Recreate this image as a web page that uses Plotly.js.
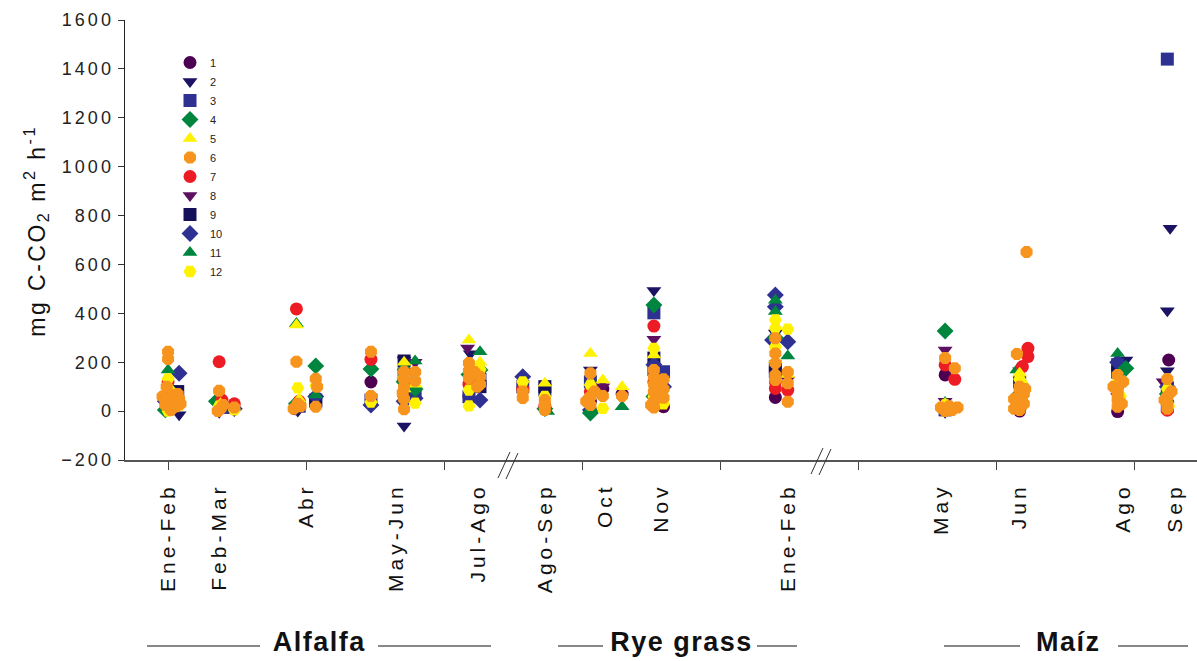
<!DOCTYPE html>
<html>
<head>
<meta charset="utf-8">
<script src="https://cdn.plot.ly/plotly-3.0.1.min.js"></script>
<style>
  html, body { margin: 0; padding: 0; background: #fff; }
  #chart { width: 1197px; height: 661px; }
  .ytick text { letter-spacing: 3px; }
  .x2tick text { letter-spacing: 4px; }
  .annotation[data-index="0"] text,
  .annotation[data-index="1"] text,
  .annotation[data-index="2"] text { letter-spacing: 1.5px; }
  .annotation[data-index="3"] text { letter-spacing: 2.5px; }
</style>
</head>
<body>
<div id="chart"></div>
<script>
// Soil respiration (mg C-CO2 m-2 h-1) per sampling, twelve plots.
// x = sampling position along the time axis (one unit per major tick).

const seriesNames = ['1','2','3','4','5','6','7','8','9','10','11','12'];

const s1x = [0.00,0.05, 0.37, 0.92, 1.47,1.71, 2.18, 3.06,3.15,3.29, 3.59, 4.40, 5.63, 6.17, 6.88, 7.25];
const s1y = [20,45, 10, 10, 119,60, 60, 40,90,70, 18, 56, 148, 0, -2, 209];

const s2x = [0.08,0.01, 0.37, 0.94, 1.71,1.71, 2.19, 2.57, 3.06, 3.52, 4.40, 5.63, 6.17, 6.94, 7.26,7.24,7.24];
const s2y = [-15,10, -5, 0, 209,-61, 235, 130, 168, 493, 320, -5, 10, 209, 748,411,165];

const s3x = [0.06,0.00, 0.40, 0.95,1.07, 1.47,1.71,1.79, 2.18,2.26, 2.57,2.73, 3.06, 3.52,3.59,3.52, 4.40, 5.63, 6.17, 6.88, 7.24,7.24];
const s3y = [60,30, 15, 20,40, 45,150,70, 59,130, 100,86, 120, 402,161,170, 160, 5, 30, 190, 1440,20];

const s4x = [0.03,-0.02, 0.35, 1.07,0.93, 1.47,1.71,1.79, 2.18,2.26, 2.73, 3.06, 3.52,3.52, 4.40, 5.63, 6.17, 6.94, 7.24];
const s4y = [75,5, 40, 185,30, 172,120,90, 150,168, 10, -8, 434,60, 300, 328, 70, 175, 70];

const s5x = [0.02,0.06, 0.38, 0.93,0.95, 1.71,1.71,1.79, 2.18,2.26, 2.73, 3.06,3.15,3.29, 3.52, 4.40,4.49, 5.63, 6.17, 6.88, 7.24];
const s5y = [90,15, 30, 352,50, 200,90,110, 291,200, 114, 236,127,100, 230, 210,150, 30, 155, 130, 40];

const s6x = [0.00,0.00,-0.01,0.04,0.00,0.06,0.02,0.08,-0.02,0.07,0.09,-0.04,
             0.37,0.38,0.40,0.48,0.36,
             0.93,0.91,0.94,0.96,1.07,1.07,1.08,
             1.47,1.47,1.71,1.71,1.71,1.70,1.71,1.71,1.79,1.79,
             2.18,2.18,2.18,2.26,2.26,2.22,2.24,
             2.57,2.57,2.73,2.73,2.73,
             3.06,3.06,3.06,3.15,3.29,3.03,3.09,
             3.52,3.52,3.52,3.52,3.52,3.52,3.59,3.59,3.59,3.56,3.55,3.50,
             4.40,4.40,4.40,4.40,4.40,4.49,4.49,4.49,
             5.70,5.63,5.63,5.63,5.66,5.60,5.68,5.72,
             6.15,6.22,6.17,6.17,6.17,6.17,6.17,6.17,6.13,6.20,6.13,6.20,6.21,
             6.88,6.88,6.88,6.88,6.88,6.91,6.85,6.92,
             7.24,7.24,7.24,7.24,7.22,7.27];
const s6y = [243,213,100,65,40,20,5,50,25,70,30,60,
             83,10,25,15,0,
             202,10,30,20,132,18,100,
             243,62,161,130,100,75,50,8,160,124,
             197,135,165,141,110,160,100,
             80,54,25,5,45,
             155,59,25,62,62,40,80,
             168,140,110,80,40,15,130,90,55,110,60,25,
             298,236,196,148,127,114,38,160,
             175,217,10,0,20,15,5,15,
             234,651,100,80,60,40,20,5,10,30,50,70,90,
             148,90,45,18,70,30,100,120,
             131,60,30,10,45,80];

const s7x = [0.00,0.05, 0.37,0.39,0.48, 0.93,0.95, 1.47, 2.18, 2.57,2.73, 3.06, 3.52,3.52, 4.40,4.49,4.40, 5.63,5.70, 6.23,6.23,6.19, 6.88, 7.24];
const s7y = [120,30, 202,45,30, 418,40, 212, 110, 90,20, 80, 348,120, 93,86,120, 189,130, 257,223,182, 100, 4];

const s8x = [0.02, 1.07, 1.79, 2.17, 3.15, 3.52, 4.49, 5.63,5.63, 6.17, 6.88, 7.21];
const s8y = [55, 50, 200, 258, 100, 294, 127, 250,40, 165, 60, 120];

const s9x = [0.07, 1.07, 1.71, 2.26, 2.73, 3.52, 4.40, 6.17, 6.88, 7.24];
const s9y = [80, 45, 205, 100, 100, 217, 180, 120, 160, 95];

const s10x = [0.08,-0.02, 0.48, 1.07, 1.47,1.71,1.79, 2.26, 2.57, 3.06, 3.52,3.59, 4.40,4.40,4.38,4.49, 5.63, 6.17, 6.88, 7.24];
const s10y = [155,40, 10, 60, 25,40,53, 45, 141, 5, 190,100, 475,427,291,284, 15, 50, 200, 100];

const s11x = [0.00,0.02, 0.36, 0.93,1.07, 1.71,1.79, 2.26, 2.75, 3.06,3.29, 3.52, 4.40,4.40,4.49, 5.63, 6.15, 6.88, 7.24];
const s11y = [168,10, 50, 358,66, 180,205, 243, -2, 10,18, 30, 454,407,225, 35, 168, 236, 50];

const s12x = [0.00,0.05,0.00, 0.37,0.48, 0.94,1.07, 1.47,1.71,1.79, 2.18,2.18,2.26, 2.57,2.73, 3.06,3.15, 3.52,3.52,3.59,3.55, 4.40,4.40,4.40,4.49, 5.63,5.65, 6.17,6.19,6.19, 6.88,6.90, 7.24,7.25];
const s12y = [132,55,0, 20,5, 95,104, 37,140,33, 86,21,170, 120,60, 107,11, 257,59,30,80, 373,339,263,335, 25,10, 130,110,60, 114,60, 90,20];

// Sampling labels along the time axis
const monthLabels = ['Ene-Feb','Feb-Mar','Abr','May-Jun','Jul-Ago','Ago-Sep','Oct','Nov','Ene-Feb','May','Jun','Ago','Sep'];
const monthPos    = [0.00, 0.37, 1.00, 1.65, 2.25, 2.73, 3.17, 3.57, 4.49, 5.60, 6.17, 6.92, 7.30];

// Crop periods
const cropNames = ['Alfalfa','Rye grass','Maíz'];
const yTitle = 'mg C-CO<sub>2</sub> m<sup>2</sup> h<sup>-1</sup>';

const yTicks = [-200,0,200,400,600,800,1000,1200,1400,1600];
const xTicks = [0,1,2,3,4,5,6,7];

const allX = [s1x,s2x,s3x,s4x,s5x,s6x,s7x,s8x,s9x,s10x,s11x,s12x];
const allY = [s1y,s2y,s3y,s4y,s5y,s6y,s7y,s8y,s9y,s10y,s11y,s12y];

const colors  = ['#4d0052','#1b1363','#2e3192','#00853e','#fff200','#f7941d','#ed1c24','#5e1060','#15105a','#2e3192','#00853e','#fff200'];
const symbols = ['circle','triangle-down','square','diamond','triangle-up','octagon','circle','triangle-down','square','diamond','triangle-up','hexagon2'];
const drawOrder = [0,1,2,8,7,9,3,10,6,4,11,5];

const traces = drawOrder.map(i => ({
  type: 'scatter', mode: 'markers',
  name: seriesNames[i], legendrank: i + 1,
  x: allX[i], y: allY[i],
  marker: { color: colors[i], symbol: symbols[i], size: 13, line: { width: 0 } },
  hoverinfo: 'x+y+name'
}));
// carrier for the sampling-label axis
traces.push({ type: 'scatter', mode: 'markers', x: [], y: [], xaxis: 'x2', showlegend: false, hoverinfo: 'skip' });

const xRange = [-0.312, 7.455];
const plotL = 125, plotW = 1072, plotT = 20, plotH = 440;
const px = v => (v - plotL) / plotW;
const py = v => (plotT + plotH - v) / plotH;

const shapes = [];
const lineStyle = { color: '#111', width: 1 };
// lines either side of the crop names
[[147,260],[378,491],[558,603],[757,797],[944,1020],[1118,1188]].forEach(s => {
  shapes.push({ type: 'line', xref: 'paper', yref: 'paper', x0: px(s[0]), x1: px(s[1]), y0: py(646), y1: py(646), line: lineStyle });
});
// axis break marks
[[498,478,510,452],[506,479,518,453],[811,474,823,448],[819,475,831,449]].forEach(s => {
  shapes.push({ type: 'line', xref: 'paper', yref: 'paper', x0: px(s[0]), y0: py(s[1]), x1: px(s[2]), y1: py(s[3]), line: { color: '#333', width: 1 } });
});

const baseFont = 'Liberation Sans, Arial, sans-serif';

const cropX = [320, 681, 1068];
const annotations = cropNames.map((t, i) => ({
  text: t, xref: 'paper', yref: 'paper', x: px(cropX[i]), y: py(642),
  xanchor: 'center', yanchor: 'middle', showarrow: false,
  font: { family: baseFont, size: 27, color: '#111', weight: 'bold' }
}));
annotations.push({
  text: yTitle, xref: 'paper', yref: 'paper', x: px(36), y: py(231),
  xanchor: 'center', yanchor: 'middle', textangle: -90, showarrow: false,
  font: { family: baseFont, size: 23, color: '#111' }
});

const layout = {
  width: 1197, height: 661,
  margin: { l: plotL, r: 0, t: plotT, b: 661 - plotT - plotH, pad: 0 },
  paper_bgcolor: '#fff', plot_bgcolor: '#fff',
  font: { family: baseFont, color: '#222' },
  showlegend: true,
  legend: {
    x: px(170), y: py(48), xanchor: 'left', yanchor: 'top',
    font: { family: baseFont, size: 11, color: '#222' },
    bgcolor: 'rgba(0,0,0,0)', borderwidth: 0, tracegroupgap: 0, itemwidth: 30
  },
  xaxis: {
    type: 'linear', range: xRange, tickvals: xTicks, showticklabels: false,
    ticks: 'outside', ticklen: 8, tickwidth: 1, tickcolor: '#444',
    showline: true, linecolor: '#555', linewidth: 1.5,
    showgrid: false, zeroline: false, fixedrange: true
  },
  xaxis2: {
    type: 'linear', overlaying: 'x', anchor: 'y', side: 'bottom', range: xRange,
    tickmode: 'array', tickvals: monthPos, ticktext: monthLabels, tickangle: -90,
    ticks: 'outside', ticklen: 14, tickcolor: 'rgba(0,0,0,0)',
    tickfont: { family: baseFont, size: 21, color: '#111' },
    showline: false, showgrid: false, zeroline: false, fixedrange: true
  },
  yaxis: {
    type: 'linear', range: [-200, 1600], tickvals: yTicks,
    ticks: 'outside', ticklen: 6, tickwidth: 1, tickcolor: '#333',
    tickfont: { family: baseFont, size: 18, color: '#222' },
    showline: true, linecolor: '#222', linewidth: 1.5,
    showgrid: false, zeroline: false, fixedrange: true
  },
  shapes: shapes,
  annotations: annotations
};

Plotly.newPlot('chart', traces, layout, { displayModeBar: false, staticPlot: true });
</script>
</body>
</html>
